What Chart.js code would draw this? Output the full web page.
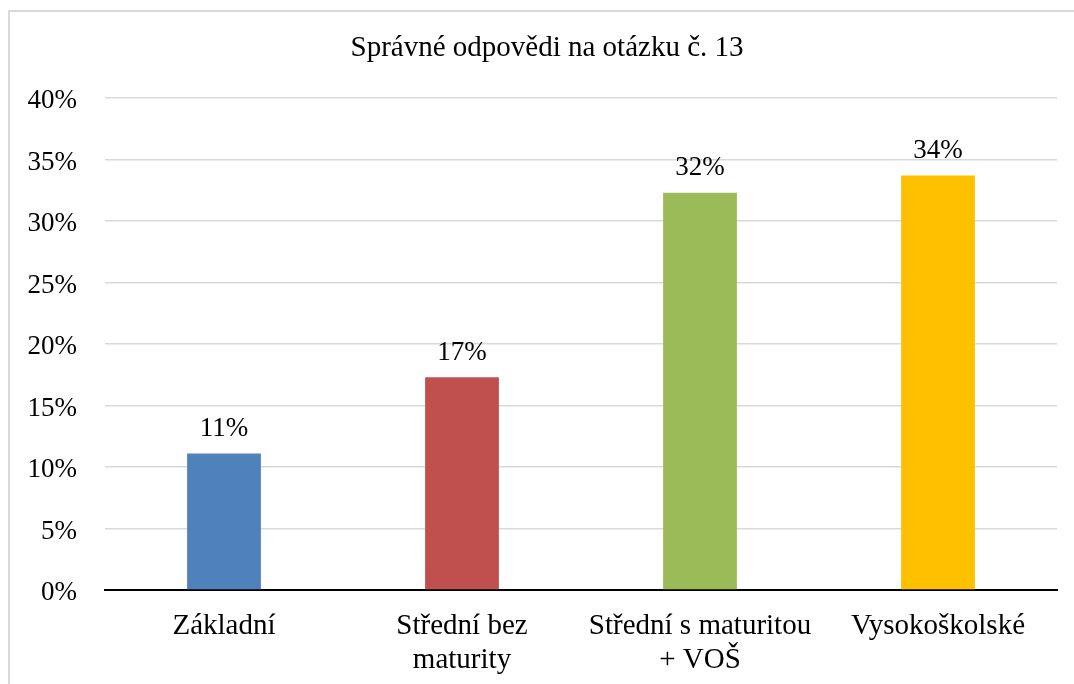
<!DOCTYPE html>
<html>
<head>
<meta charset="utf-8">
<script src="https://cdn.jsdelivr.net/npm/chart.js@4.4.1/dist/chart.umd.min.js"></script>
<style>
    html, body {margin: 0; padding: 0; background: #FFF;}
    .chart_box {position: relative; width: 1074px; height: 684px; overflow: hidden;}
    .chart_frame {position: absolute; left: 8px; top: 10px; width: 1100px; height: 700px; border-left: 2px solid #D9D9D9; border-top: 2px solid #D9D9D9;}
    canvas {position: absolute; left: 0; top: 0;}
</style>
</head>
<body>
<div class="chart_box">
    <div class="chart_frame"></div>
    <canvas id="chart_bar" width="1074" height="684"></canvas>
</div>
<script>
//chart - 데이터
const chartTitle = 'Správné odpovědi na otázku č. 13';
const categories = [['Základní'], ['Střední bez', 'maturity'], ['Střední s maturitou', '+ VOŠ'], ['Vysokoškolské']];
const values = [11.1, 17.3, 32.3, 33.7];
const valueLabels = ['11%', '17%', '32%', '34%'];
const barColors = ['#4F81BD', '#C0504D', '#9BBB59', '#FFC000'];
const yTicks = [0, 5, 10, 15, 20, 25, 30, 35, 40];

const fontFamily = '"Liberation Serif", "Times New Roman", serif';

//title - 프레임 기준 중앙에 표시
const frameTitle = {
    id: 'frameTitle',
    afterDraw(chart) {
        const {ctx} = chart;
        ctx.save();
        ctx.font = '29px ' + fontFamily;
        ctx.fillStyle = '#000';
        ctx.textAlign = 'center';
        ctx.textBaseline = 'middle';
        ctx.fillText(chartTitle, 547, 48);
        ctx.restore();
    }
};

//datalabel - 막대 위 값 표시
const barValueLabels = {
    id: 'barValueLabels',
    afterDatasetsDraw(chart) {
        const {ctx} = chart;
        const meta = chart.getDatasetMeta(0);
        ctx.save();
        ctx.font = '27px ' + fontFamily;
        ctx.fillStyle = '#000';
        ctx.textAlign = 'center';
        ctx.textBaseline = 'bottom';
        meta.data.forEach((bar, i) => {
            ctx.fillText(valueLabels[i], bar.x, bar.y - 11);
        });
        ctx.restore();
    }
};

const barInstance = new Chart(document.getElementById('chart_bar'), {
    type: 'bar',
    data: {
        labels: categories,
        datasets: [{
            data: values,
            backgroundColor: barColors,
            borderWidth: 0,
            barPercentage: 0.31,
            categoryPercentage: 1
        }]
    },
    options: {
        responsive: false,
        animation: false,
        layout: {padding: {left: 10, right: 17, top: 98, bottom: 0}},
        plugins: {
            legend: {display: false},
            tooltip: {enabled: false},
            title: {display: false}
        },
        scales: {
            y: {
                min: 0,
                max: 40,
                afterBuildTicks(scale) {
                    scale.ticks = yTicks.map(v => ({value: v}));
                },
                afterFit(scale) {
                    scale.width = 95;
                },
                ticks: {
                    padding: 28,
                    labelOffset: 3,
                    color: '#000',
                    font: {family: fontFamily, size: 27},
                    callback: v => v + '%'
                },
                grid: {color: '#D9D9D9', lineWidth: 1.5, drawTicks: false},
                border: {display: false}
            },
            x: {
                afterFit(scale) {
                    scale.height = 94;
                },
                ticks: {
                    padding: 19,
                    color: '#000',
                    maxRotation: 0,
                    autoSkip: false,
                    font: {family: fontFamily, size: 29, lineHeight: 1.18}
                },
                grid: {display: false, drawTicks: false},
                border: {display: true, color: '#000', width: 2}
            }
        }
    },
    plugins: [barValueLabels, frameTitle]
});
</script>
</body>
</html>
